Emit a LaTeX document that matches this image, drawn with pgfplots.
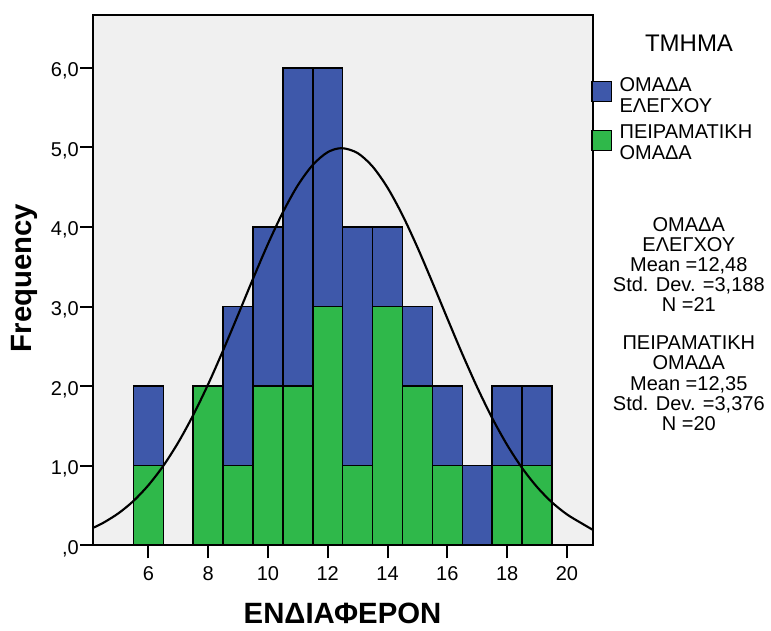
\documentclass[border=0pt]{standalone}
\usepackage{fontspec}
\setmainfont{Liberation Sans}
\usepackage{pgfplots}
\pgfplotsset{compat=1.18}
\definecolor{spssblue}{RGB}{62,88,170}
\definecolor{spssgreen}{RGB}{47,184,74}
\definecolor{plotbg}{RGB}{240,240,240}
\newcommand{\fs}{\fontsize{15}{18}\selectfont}
\begin{document}
\begin{tikzpicture}
\useasboundingbox (0,0) rectangle (578.25pt,-473.25pt);
\begin{axis}[
  at={(69.975pt,-408.975pt)}, anchor=south west,
  scale only axis, width=374.55pt, height=397.95pt,
  xmin=4.16, xmax=20.86, ymin=0, ymax=6.667,
  axis background/.style={fill=plotbg},
  axis line style={line width=1.5pt},
  axis on top,
  tick align=outside,
  major tick length=9.75pt,
  tick style={line width=1.5pt, black},
  xtick pos=lower, ytick pos=left,
  xtick={6,8,10,12,14,16,18,20},
  xticklabels={6,8,10,12,14,16,18,20},
  ytick={0,1,2,3,4,5,6},
  yticklabels={{,0},{1,0},{2,0},{3,0},{4,0},{5,0},{6,0}},
  tick label style={font=\fs},
  xticklabel style={inner sep=0pt, yshift=-6pt},
  yticklabel style={inner sep=0pt, xshift=-1pt, yshift=-2.5pt},
]
% total heights (blue = ΟΜΑΔΑ ΕΛΕΓΧΟΥ stacked on green)
\addplot[ybar, bar width=1, bar shift=0pt, fill=spssblue, draw=black, line width=1.1pt]
 coordinates {(6,2) (8,2) (9,3) (10,4) (11,6) (12,6) (13,4) (14,4) (15,3) (16,2) (17,1) (18,2) (19,2)};
% ΠΕΙΡΑΜΑΤΙΚΗ ΟΜΑΔΑ counts
\addplot[ybar, bar width=1, bar shift=0pt, fill=spssgreen, draw=black, line width=1.1pt]
 coordinates {(6,1) (8,2) (9,1) (10,2) (11,2) (12,3) (13,1) (14,3) (15,2) (16,1) (18,1) (19,1)};
% normal curve
\addplot[smooth, black, line width=1.6pt, mark=none] coordinates {
 (4.16,0.221) (4.5,0.284) (5,0.402) (5.5,0.556) (6,0.754) (6.5,0.998) (7,1.292)
 (7.5,1.635) (8,2.023) (8.5,2.448) (9,2.895) (9.5,3.348) (10,3.786) (10.5,4.185)
 (11,4.524) (11.5,4.780) (12,4.940) (12.475,4.99) (13,4.928) (13.5,4.759) (14,4.493)
 (14.5,4.148) (15,3.743) (15.5,3.303) (16,2.850) (16.5,2.404) (17,1.983) (17.5,1.598)
 (18,1.260) (18.5,0.971) (19,0.732) (19.5,0.539) (20,0.388) (20.5,0.274) (20.86,0.195)};
\end{axis}
\begin{scope}[x=0.75pt, y=-0.75pt, every node/.style={inner sep=0pt}]
  % axis labels
  \node[rotate=90, font=\fontsize{22}{26}\selectfont\bfseries] at (24,278) {Frequency};
  \node[anchor=base, font=\fontsize{22}{26}\selectfont\bfseries] at (342.5,623) {ΕΝΔΙΑΦΕΡΟΝ};
  % legend
  \node[anchor=base, font=\fontsize{18}{22}\selectfont] at (689,52) {ΤΜΗΜΑ};
  \draw[fill=spssblue, line width=1.1pt] (592,81.7) rectangle (611.7,101.7);
  \draw[fill=spssgreen, line width=1.1pt] (592,130.7) rectangle (611.7,150.5);
  \node[anchor=base west, font=\fs] at (619.3,91.7) {ΟΜΑΔΑ};
  \node[anchor=base west, font=\fs] at (619.3,112.3) {ΕΛΕΓΧΟΥ};
  \node[anchor=base west, font=\fs] at (619.3,139) {ΠΕΙΡΑΜΑΤΙΚΗ};
  \node[anchor=base west, font=\fs] at (619.3,160) {ΟΜΑΔΑ};
  % statistics
  \node[anchor=base, font=\fs] at (688.8,231.7) {ΟΜΑΔΑ};
  \node[anchor=base, font=\fs] at (688.8,251.7) {ΕΛΕΓΧΟΥ};
  \node[anchor=base, font=\fs] at (688.8,271.7) {Mean =12,48};
  \node[anchor=base, font=\fs] at (688.8,291.7) {Std. Dev. =3,188};
  \node[anchor=base, font=\fs] at (688.8,311.7) {N =21};
  \node[anchor=base, font=\fs] at (688.8,349.3) {ΠΕΙΡΑΜΑΤΙΚΗ};
  \node[anchor=base, font=\fs] at (688.8,369.3) {ΟΜΑΔΑ};
  \node[anchor=base, font=\fs] at (688.8,390) {Mean =12,35};
  \node[anchor=base, font=\fs] at (688.8,410) {Std. Dev. =3,376};
  \node[anchor=base, font=\fs] at (688.8,430) {N =20};
\end{scope}
\end{tikzpicture}
\end{document}
